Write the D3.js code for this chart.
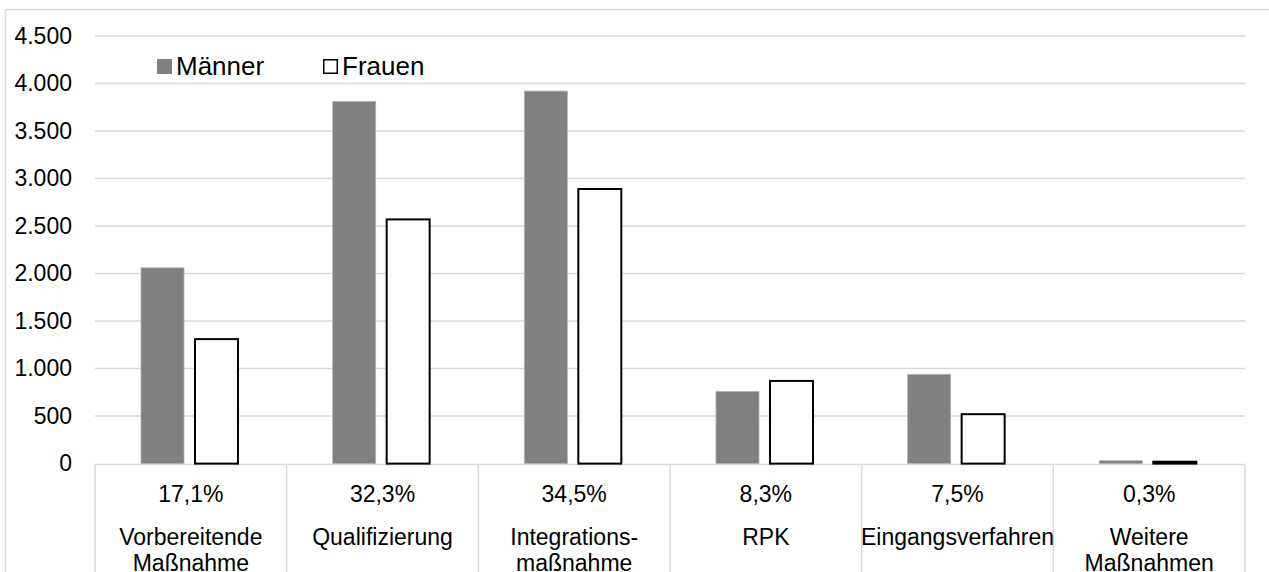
<!DOCTYPE html>
<html><head><meta charset="utf-8">
<script src="https://cdn.jsdelivr.net/npm/d3@7/dist/d3.min.js"></script>
<style>html,body{margin:0;padding:0;background:#fff;}svg{display:block;font-family:"Liberation Sans",Arial,sans-serif;}</style>
</head><body>
<script>
const categories = ["Vorbereitende\nMaßnahme","Qualifizierung","Integrations-\nmaßnahme","RPK","Eingangsverfahren","Weitere\nMaßnahmen"];
const shares = ["17,1%","32,3%","34,5%","8,3%","7,5%","0,3%"];
const series = ["Männer","Frauen"];
const maenner = [2060,3810,3920,760,940,30];
const frauen = [1310,2570,2890,870,520,20];
const yTicks = [0,500,1000,1500,2000,2500,3000,3500,4000,4500];

const W=1269,H=572;
const svg=d3.select("body").append("svg").attr("width",W).attr("height",H);
const grid="#d9d9d9";
// outer frame
svg.append("line").attr("x1",5.5).attr("x2",W).attr("y1",9.5).attr("y2",9.5).attr("stroke",grid).attr("stroke-width",1.5);
svg.append("line").attr("x1",5.5).attr("x2",5.5).attr("y1",9.5).attr("y2",H).attr("stroke",grid).attr("stroke-width",1.5);

const x0=d3.scaleBand().domain(categories).range([95,1245]);
const bw=x0.bandwidth();
const x1=d3.scaleBand().domain(series).range([0.24*bw,0.746*bw]).paddingInner(0.2037);
const y=d3.scaleLinear().domain([0,4500]).range([463.6,36]);

const yAxis=d3.axisLeft(y).tickValues(yTicks).tickSize(0).tickPadding(0)
  .tickFormat(d=>d3.format(",")(d).replace(/,/g,"."));
const gA=svg.append("g").attr("transform","translate(72,0)").call(yAxis);
gA.select(".domain").remove();
gA.selectAll("text").attr("font-size",23).attr("fill","#000").attr("font-family","Liberation Sans, Arial, sans-serif");
svg.append("g").selectAll("line").data(yTicks.filter(d=>d>0)).join("line")
  .attr("x1",95).attr("x2",1245).attr("y1",d=>y(d)).attr("y2",d=>y(d))
  .attr("stroke",grid).attr("stroke-width",1.5);

// table lines
svg.append("line").attr("x1",95).attr("x2",1245).attr("y1",y(0)+1).attr("y2",y(0)+1).attr("stroke",grid).attr("stroke-width",1.5);
const edges=categories.map(c=>x0(c)).concat([1245]);
svg.append("g").selectAll("line").data(edges).join("line")
  .attr("x1",d=>d).attr("x2",d=>d).attr("y1",y(0)+1).attr("y2",H).attr("stroke",grid).attr("stroke-width",1.5);

// bars
const data=categories.map((c,i)=>({c,vals:[{s:"Männer",v:maenner[i]},{s:"Frauen",v:frauen[i]}]}));
const g=svg.append("g").selectAll("g").data(data).join("g").attr("transform",d=>`translate(${x0(d.c)},0)`);
g.selectAll("rect").data(d=>d.vals).join("rect")
  .attr("x",d=>x1(d.s)).attr("width",x1.bandwidth())
  .attr("y",d=>y(d.v)).attr("height",d=>y(0)-y(d.v))
  .attr("fill",d=>d.s==="Männer"?"#808080":"#ffffff")
  .attr("stroke",d=>d.s==="Männer"?"#b0b0b0":"#000")
  .attr("stroke-width",d=>d.s==="Männer"?0.8:2);

// category labels
const lab=svg.append("g").selectAll("g").data(categories).join("g")
  .attr("transform",c=>`translate(${x0(c)+bw/2},0)`);
lab.append("text").attr("y",502).attr("text-anchor","middle").attr("font-size",23).attr("fill","#000")
  .text((c,i)=>shares[i]);
lab.each(function(c){
  const lines=c.split("\n");
  const t=d3.select(this).append("text").attr("text-anchor","middle").attr("font-size",23).attr("fill","#000");
  lines.forEach((l,j)=>t.append("tspan").attr("x",0).attr("y",545+j*26).text(l));
});

// legend
const leg=[{s:"Männer",x:157},{s:"Frauen",x:323}];
const lg=svg.append("g").selectAll("g").data(leg).join("g").attr("transform",d=>`translate(${d.x},0)`);
lg.append("rect").attr("x",d=>d.s==="Männer"?0:0.75).attr("y",d=>d.s==="Männer"?59:59.75)
  .attr("width",d=>d.s==="Männer"?15:13.5).attr("height",d=>d.s==="Männer"?15:13.5)
  .attr("fill",d=>d.s==="Männer"?"#808080":"#fff").attr("stroke",d=>d.s==="Männer"?"none":"#000").attr("stroke-width",1.5);
lg.append("text").attr("x",19).attr("y",74.5).attr("font-size",26).attr("fill","#000").text(d=>d.s);
</script>
</body></html>
